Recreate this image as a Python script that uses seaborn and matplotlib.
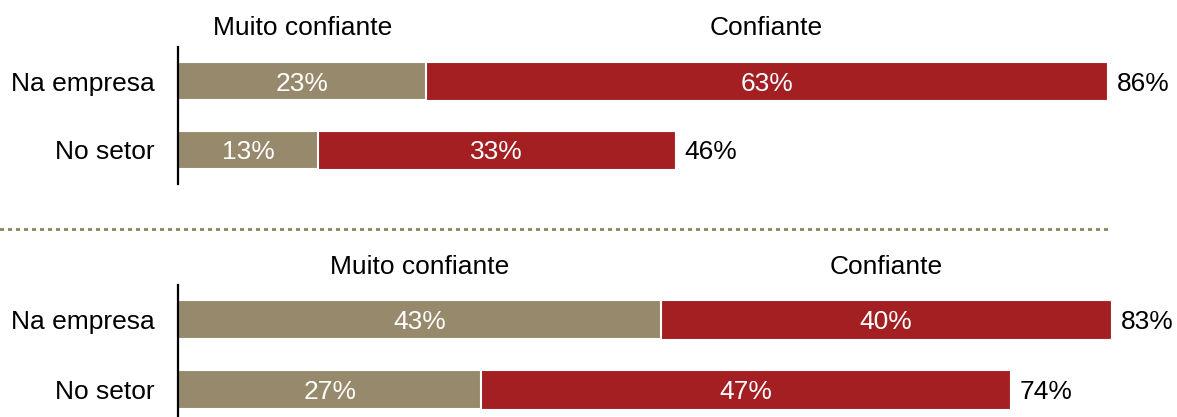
import matplotlib
matplotlib.use("Agg")
import matplotlib.pyplot as plt
import matplotlib.transforms as mtransforms
from matplotlib.lines import Line2D
import seaborn as sns

# Confidence levels, two survey waves (upper and lower block)
categories = ["Na empresa", "No setor"]
segments = ["Muito confiante", "Confiante"]
upper_muito = [23, 13]
upper_conf = [63, 33]
lower_muito = [43, 27]
lower_conf = [40, 47]

TAN = "#978A6C"
RED = "#A31F22"
FS = 19

sns.set_style("white")
plt.rcParams["font.family"] = ["Liberation Sans", "DejaVu Sans"]

W, H = 1177, 417
fig = plt.figure(figsize=(W / 100, H / 100), dpi=100)


def px_axes(left, top, right, bottom):
    return fig.add_axes([left / W, (H - bottom) / H, (right - left) / W, (bottom - top) / H])


def draw_block(ax, muito, conf, px_per_pct, header_y):
    totals = [m + c for m, c in zip(muito, conf)]
    # full bar in red, then the "muito" part on top with a white seam
    sns.barplot(x=totals, y=categories, orient="h", color=RED, saturation=1,
                width=0.56, edgecolor="white", linewidth=0.8, ax=ax)
    sns.barplot(x=muito, y=categories, orient="h", color=TAN, saturation=1,
                width=0.56, edgecolor="white", linewidth=1.5, ax=ax)
    width_px = ax.get_position().width * W
    ax.set_xlim(0, width_px / px_per_pct)
    ax.set_ylim(1.5, -0.5)
    ax.set_xlabel("")
    ax.set_ylabel("")
    ax.set_xticks([])
    for s in ["top", "right", "bottom"]:
        ax.spines[s].set_visible(False)
    ax.spines["left"].set_color("black")
    ax.spines["left"].set_linewidth(1.6)
    ax.spines["left"].set_zorder(5)
    ax.tick_params(axis="y", length=0, pad=16.5, labelsize=FS, labelcolor="black")

    for i, (m, c, t) in enumerate(zip(muito, conf, totals)):
        ax.text(m / 2, i, f"{m}%", color="white", fontsize=FS,
                ha="center", va="center_baseline")
        ax.text(m + c / 2, i, f"{c}%", color="white", fontsize=FS,
                ha="center", va="center_baseline")
        ax.annotate(f"{t}%", xy=(t, i), xytext=(7.2, 0), textcoords="offset points",
                    color="black", fontsize=FS, ha="left", va="center_baseline")

    trans = mtransforms.blended_transform_factory(ax.transData, ax.transAxes)
    centers = [muito[0] / 2, muito[0] + conf[0] / 2]
    for xc, label in zip(centers, segments):
        ax.text(xc, header_y, label, transform=trans, fontsize=FS, color="black",
                ha="center", va="center_baseline", clip_on=False)


ax_top = px_axes(178, 47, 1177, 184)
draw_block(ax_top, upper_muito, upper_conf, 10.80, 1.16)

ax_bot = px_axes(178, 285, 1177, 424)
draw_block(ax_bot, lower_muito, lower_conf, 11.24, 1.144)

# dotted separator between the two blocks
y_sep = (H - 228.5) / H
fig.add_artist(Line2D([0, 1110 / W], [y_sep, y_sep], transform=fig.transFigure,
                      color=TAN, linewidth=2.4, linestyle=(0, (1.0, 1.5)),
                      dash_capstyle="butt", antialiased=False))

fig.savefig("out.png", dpi=100)
